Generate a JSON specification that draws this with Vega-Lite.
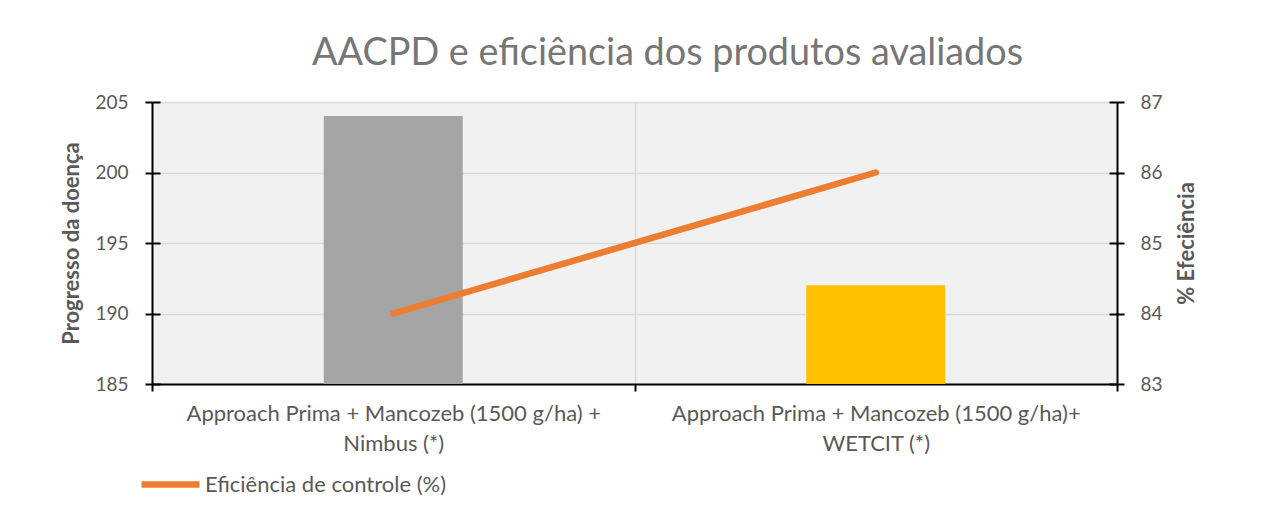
{
  "$schema": "https://vega.github.io/schema/vega-lite/v6.json",
  "autosize": {"type": "none"},
  "width": 965,
  "height": 282,
  "padding": {"left": 152, "top": 102, "right": 160, "bottom": 127},
  "background": "white",
  "config": {
    "font": "Lato",
    "view": {"fill": "#f1f1f1", "stroke": null},
    "axis": {"labelColor": "#595959", "titleColor": "#595959", "domainColor": "#000000", "tickColor": "#000000", "domainWidth": 2, "tickWidth": 2, "gridColor": "#d9d9d9", "gridWidth": 1.5}
  },
  "title": {
    "text": "AACPD e eficiência dos produtos avaliados",
    "fontSize": 37.8,
    "fontWeight": "normal",
    "color": "#767676",
    "anchor": "middle",
    "baseline": "alphabetic",
    "offset": 35,
    "dy": 45,
    "dx": 33
  },
  "data": {
    "values": [
      {"produto": "Approach Prima + Mancozeb (1500 g/ha) +\nNimbus (*)", "aacpd": 204, "eficiencia": 84},
      {"produto": "Approach Prima + Mancozeb (1500 g/ha)+\nWETCIT (*)", "aacpd": 192, "eficiencia": 86}
    ]
  },
  "encoding": {
    "x": {
      "field": "produto",
      "type": "nominal",
      "sort": null,
      "scale": {"paddingInner": 0, "paddingOuter": 0},
      "axis": {
        "title": null,
        "labelAngle": 0,
        "labelExpr": "datum.value ? split(datum.value, '\\n') : ''",
        "labelFontSize": 22,
        "labelLineHeight": 30,
        "labelPadding": 12,
        "labelLimit": 1000,
        "tickSize": 7,
        "tickBand": "extent",
        "grid": true
      }
    }
  },
  "layer": [
    {
      "mark": {"type": "bar", "width": {"band": 0.288}},
      "encoding": {
        "y": {
          "field": "aacpd",
          "type": "quantitative",
          "scale": {"domain": [185, 205], "zero": false, "nice": false},
          "axis": {
            "orient": "left",
            "title": "Progresso da doença",
            "titleFontSize": 22,
            "titleFontWeight": "bold",
            "titlePadding": 11,
            "values": [185, 190, 195, 200, 205],
            "labelFontSize": 19,
            "labelPadding": 17,
            "tickSize": 7,
            "grid": true
          }
        },
        "y2": {"datum": 185},
        "fill": {
          "field": "produto",
          "type": "nominal",
          "scale": {"range": ["#A5A5A5", "#FFC000"]},
          "legend": null
        }
      }
    },
    {
      "mark": {"type": "tick", "opacity": 0},
      "encoding": {
        "y": {
          "field": "aacpd",
          "type": "quantitative",
          "scale": {"domain": [185, 205], "zero": false, "nice": false},
          "axis": {
            "orient": "left",
            "title": null,
            "labels": false,
            "domain": false,
            "grid": false,
            "values": [185, 190, 195, 200, 205],
            "tickSize": -8
          }
        }
      }
    },
    {
      "mark": {"type": "line", "strokeWidth": 6.5, "strokeCap": "round"},
      "encoding": {
        "y": {
          "field": "eficiencia",
          "type": "quantitative",
          "scale": {"domain": [83, 87], "zero": false, "nice": false},
          "axis": {
            "orient": "right",
            "title": "% Efeciência",
            "titleFontSize": 22,
            "titleFontWeight": "bold",
            "titleAngle": 270,
            "titlePadding": 36,
            "values": [83, 84, 85, 86, 87],
            "labelFontSize": 19,
            "labelPadding": 16,
            "tickSize": 7,
            "grid": false
          }
        },
        "stroke": {
          "datum": "Eficiência de controle (%)",
          "scale": {"range": ["#ED7D31"]},
          "legend": {
            "title": null,
            "orient": "none",
            "legendX": -14,
            "legendY": 350,
            "symbolType": "stroke",
            "symbolSize": 3364,
            "symbolStrokeWidth": 6.5,
            "labelFontSize": 22,
            "labelColor": "#595959",
            "labelOffset": 2,
            "labelLimit": 1000,
            "padding": 0
          }
        }
      }
    },
    {
      "mark": {"type": "tick", "opacity": 0},
      "encoding": {
        "y": {
          "field": "eficiencia",
          "type": "quantitative",
          "scale": {"domain": [83, 87], "zero": false, "nice": false},
          "axis": {
            "orient": "right",
            "title": null,
            "labels": false,
            "domain": false,
            "grid": false,
            "values": [83, 84, 85, 86, 87],
            "tickSize": -8
          }
        }
      }
    }
  ],
  "resolve": {"scale": {"y": "independent"}}
}
